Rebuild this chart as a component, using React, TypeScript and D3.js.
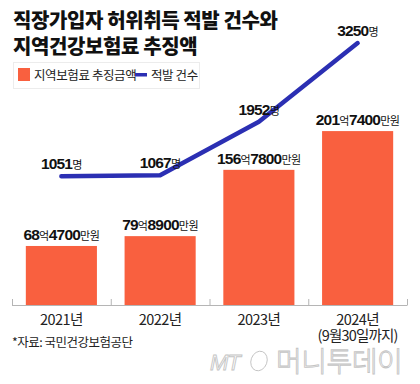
import React from 'react';
import * as d3 from 'd3';

// 연도, 지역보험료 추징금액(억원), 적발 건수(명)
const years = ['2021년', '2022년', '2023년', '2024년'];
const yearNotes = ['', '', '', '(9월30일까지)'];
const amounts = [68.47, 79.89, 156.78, 201.74];
const counts = [1051, 1067, 1952, 3250];

const W = 420;
const H = 384;
const KR = "'Noto Sans CJK KR', 'Noto Sans', sans-serif";
const NUM = "'Liberation Sans Narrow', 'Liberation Sans', Arial, sans-serif";
const BAR = '#f9603f';
const LINE = '#2b2fb3';

// 68.47 -> 68억4700만원
const amountParts = (v: number) => {
  const eok = Math.floor(v);
  const man = Math.round((v - eok) * 10000);
  return [
    { t: String(eok), b: true },
    { t: '억', b: false },
    { t: String(man), b: true },
    { t: '만원', b: false }
  ];
};

const Label = ({ x, y, parts }: { x: number, y: number, parts: { t: string, b: boolean }[] }) => (
  <text x={x} y={y} textAnchor="middle" fill="#111">
    {parts.map((p, i) => p.b
      ? <tspan key={i} fontFamily={NUM} fontWeight={700} fontSize={15.5} letterSpacing={-0.8}>{p.t}</tspan>
      : <tspan key={i} fontFamily={KR} fontSize={11} letterSpacing={-0.5}>{p.t}</tspan>)}
  </text>
);

export default function App () {
  const x = d3.scaleBand().domain(years).range([12, 407]).paddingInner(0.28).paddingOuter(0.14);
  const yBar = d3.scaleLinear().domain([0, 203]).range([305, 130]);
  const yLine = d3.scaleLinear().domain([0, 3300]).range([240, 40]);
  const cx = (i: number) => (x(years[i]) as number) + x.bandwidth() / 2;

  const line = d3.line<number>()
    .x((d, i) => cx(i))
    .y(d => yLine(d))
    .curve(d3.curveLinear);

  const step = x.step();
  const ticks = d3.range(years.length + 1).map(i => 12 + i * step);

  return (
    <svg width={W} height={H} style={{ position: 'absolute', left: 0, top: 0, background: '#fff' }}>
      {/* 제목 */}
      <text x={13} y={28} fontFamily={KR} fontWeight={900} fontSize={20} letterSpacing={-0.4} fill="#111">직장가입자 허위취득 적발 건수와</text>
      <text x={13} y={54} fontFamily={KR} fontWeight={900} fontSize={20} letterSpacing={-0.4} fill="#111">지역건강보험료 추징액</text>

      {/* 범례 */}
      <rect x={13.5} y={62.5} width={186} height={26} fill="none" stroke="#ececec" />
      <rect x={18} y={68} width={12} height={13} fill={BAR} />
      <text x={34} y={80} fontFamily={KR} fontSize={12.5} letterSpacing={-0.4} fill="#222">지역보험료 추징금액</text>
      <rect x={135} y={73} width={12} height={3.5} fill={LINE} />
      <text x={151} y={80} fontFamily={KR} fontSize={12.5} letterSpacing={-0.4} fill="#222">적발 건수</text>

      {/* 막대 */}
      {amounts.map((v, i) => (
        <rect key={years[i]} x={x(years[i])} y={yBar(v)} width={x.bandwidth()} height={yBar(0) - yBar(v)} fill={BAR} />
      ))}
      {amounts.map((v, i) => (
        <Label key={years[i]} x={cx(i)} y={yBar(v) - 6} parts={amountParts(v)} />
      ))}

      {/* x축 */}
      <line x1={12} x2={407} y1={305.5} y2={305.5} stroke="#b5b5b5" strokeWidth={1} />
      {ticks.map((t, i) => (
        <line key={i} x1={t + 0.5} x2={t + 0.5} y1={299} y2={305.5} stroke="#b5b5b5" />
      ))}
      {years.map((yr, i) => (
        <text key={yr} x={cx(i)} y={325} textAnchor="middle" fontFamily={KR} fontSize={14.5} letterSpacing={-0.6} fill="#222">{yr}</text>
      ))}
      {yearNotes.map((n, i) => n && (
        <text key={i} x={cx(i)} y={341} textAnchor="middle" fontFamily={KR} fontSize={14.5} letterSpacing={-0.8} fill="#222">{n}</text>
      ))}

      {/* 선 */}
      <path d={line(counts) || ''} fill="none" stroke={LINE} strokeWidth={4.5} strokeLinecap="round" strokeLinejoin="round" />
      {counts.map((c, i) => (
        <Label key={i} x={cx(i)} y={yLine(c) - 7} parts={[{ t: String(c), b: true }, { t: '명', b: false }]} />
      ))}

      {/* 출처 */}
      <text x={12} y={347} fontFamily={KR} fontSize={12.5} letterSpacing={-0.5} fill="#222">*자료: 국민건강보험공단</text>

      {/* 워터마크 */}
      <g fill="#fff" stroke="#c4c4c4" strokeWidth={0.9}>
        <text x={210} y={370} fontFamily={NUM} fontStyle="italic" fontSize={22} letterSpacing={-1}>MT</text>
        <ellipse cx={259} cy={361} rx={8} ry={10} fill="none" transform="rotate(20 259 361)" />
        <text x={276} y={372} fontFamily={KR} fontWeight={300} fontSize={28} letterSpacing={-0.5}>머니투데이</text>
      </g>
    </svg>
  );
}
